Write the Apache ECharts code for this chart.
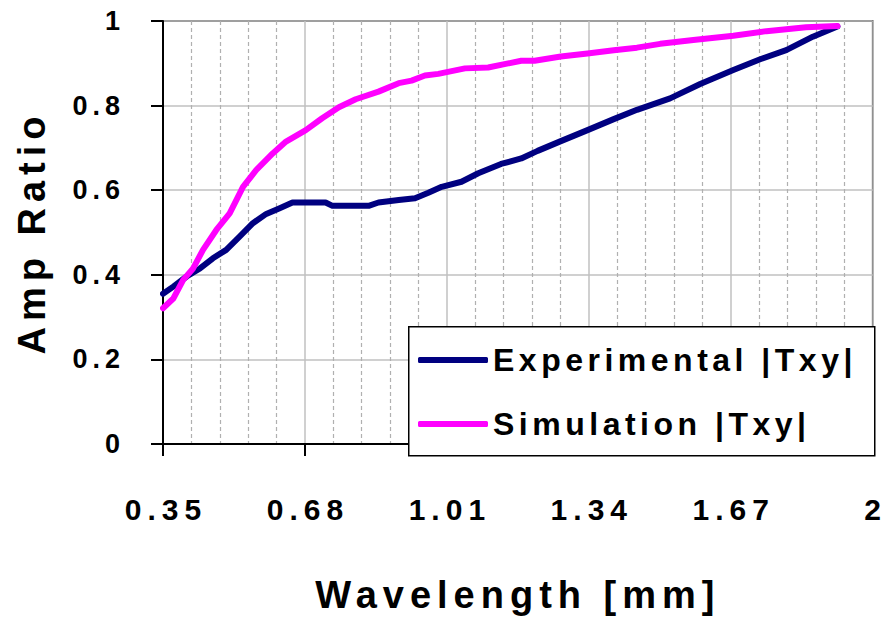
<!DOCTYPE html>
<html>
<head>
<meta charset="utf-8">
<script src="https://cdn.jsdelivr.net/npm/echarts@6/dist/echarts.min.js"></script>
<style>
  html, body { margin: 0; padding: 0; background: #fff; }
  #chart { width: 887px; height: 623px; }
</style>
</head>
<body>
<div id="chart"></div>
<script>
// ---- data ----
const SERIES_NAMES = ['Experimental |Txy|', 'Simulation |Txy|'];

const EXP_WL  = [0.350,0.374,0.405,0.436,0.466,0.497,0.528,0.559,0.590,0.620,0.651,0.728,0.744,0.828,0.851,0.898,0.936,0.967,0.998,1.044,1.083,1.136,1.183,1.221,1.275,1.337,1.398,1.452,1.529,1.599,1.676,1.737,1.799,1.861,1.918];
const EXP_AMP = [0.355,0.372,0.396,0.415,0.439,0.459,0.490,0.522,0.544,0.557,0.571,0.571,0.563,0.563,0.571,0.577,0.581,0.594,0.608,0.620,0.640,0.662,0.675,0.693,0.716,0.742,0.768,0.790,0.817,0.851,0.884,0.909,0.931,0.963,0.987];

const SIM_WL  = [0.350,0.374,0.397,0.420,0.443,0.474,0.505,0.536,0.567,0.605,0.636,0.682,0.720,0.759,0.798,0.851,0.898,0.928,0.959,0.990,1.052,1.106,1.144,1.183,1.214,1.275,1.337,1.398,1.452,1.506,1.583,1.676,1.753,1.845,1.918];
const SIM_AMP = [0.321,0.344,0.388,0.415,0.459,0.506,0.545,0.608,0.648,0.687,0.715,0.742,0.770,0.796,0.815,0.833,0.853,0.859,0.871,0.875,0.888,0.890,0.898,0.906,0.906,0.916,0.923,0.931,0.937,0.946,0.955,0.965,0.976,0.985,0.988];

const X_TICK_LABELS = ['0.35', '0.68', '1.01', '1.34', '1.67', '2'];
const Y_TICK_LABELS = ['0', '0.2', '0.4', '0.6', '0.8', '1'];
const X_MIN = 0.35, X_MAX = 2, X_STEP = 0.33;
const Y_MIN = 0, Y_MAX = 1, Y_STEP = 0.2;

// ---- chart ----
const FONT = '"Liberation Sans", Arial, sans-serif';
const chart = echarts.init(document.getElementById('chart'), null, { renderer: 'svg' });

const labelStyle = (size) => ({ fontFamily: FONT, fontWeight: 'bold', fontSize: size, color: '#000' });

const option = {
  animation: false,
  backgroundColor: '#fff',
  grid: { left: 163, right: 10, top: 21, bottom: 179, show: true, borderColor: '#000', borderWidth: 1.5, containLabel: false },
  xAxis: [
    {
      type: 'value', min: 0, max: X_MAX - X_MIN, interval: X_STEP,
      axisLine: { show: true, onZero: false, lineStyle: { color: '#000', width: 2 } },
      axisTick: { show: true, length: 12, lineStyle: { color: '#000', width: 2 } },
      minorTick: { show: false, splitNumber: 5 },
      axisLabel: Object.assign(labelStyle(30), { margin: 50, padding: [0, 0, 0, 6], showMinLabel: true, showMaxLabel: true,
        formatter: (v, i) => X_TICK_LABELS[i] }),
      splitLine: { show: true, lineStyle: { color: '#c0c0c0', width: 1.5 } },
      minorSplitLine: { show: true, lineStyle: { color: '#b0b0b0', width: 1.2, type: [4, 3] } },
      name: 'Wavelength [mm]', nameLocation: 'middle', nameGap: 132,
      nameTextStyle: labelStyle(38)
    },
    { type: 'value', min: X_MIN, max: X_MAX, show: false, splitLine: { show: false } }
  ],
  yAxis: {
    type: 'value', min: Y_MIN, max: Y_MAX, interval: Y_STEP,
    axisLine: { show: true, lineStyle: { color: '#000', width: 2 } },
    axisTick: { show: true, length: 12, lineStyle: { color: '#000', width: 2 } },
    axisLabel: Object.assign(labelStyle(27), { margin: 38, padding: [8, 0, 0, 0], formatter: (v, i) => Y_TICK_LABELS[i] }),
    splitLine: { show: true, lineStyle: { color: '#c0c0c0', width: 1.5 } },
    name: 'Amp Ratio', nameLocation: 'middle', nameGap: 112, nameRotate: 90,
    nameTextStyle: labelStyle(38)
  },
  graphic: [{
    type: 'rect', left: 408, top: 326, z: 3,
    shape: { width: 466, height: 129 },
    style: { fill: '#fff', stroke: '#000', lineWidth: 1.5 }
  }],
  legend: SERIES_NAMES.map((n, i) => ({
    data: [n], left: 418, top: i === 0 ? 344 : 408, orient: 'vertical', padding: 0,
    icon: 'roundRect', itemWidth: 70, itemHeight: 6, selectedMode: false, z: 5,
    textStyle: labelStyle(32)
  })),
  series: [
    { name: SERIES_NAMES[0], type: 'line', xAxisIndex: 1, yAxisIndex: 0, silent: true, showSymbol: false, z: 2,
      data: EXP_WL.map((x, i) => [x, EXP_AMP[i]]),
      itemStyle: { color: '#000080' },
      lineStyle: { color: '#000080', width: 6, cap: 'round', join: 'round' } },
    { name: SERIES_NAMES[1], type: 'line', xAxisIndex: 1, yAxisIndex: 0, silent: true, showSymbol: false, z: 2,
      data: SIM_WL.map((x, i) => [x, SIM_AMP[i]]),
      itemStyle: { color: '#ff00ff' },
      lineStyle: { color: '#ff00ff', width: 6, cap: 'round', join: 'round' } }
  ]
};
chart.setOption(option);

// letter spacing by font size (the reference text is widely tracked)
const SPACING = { '38': 6, '30': 6, '27': 5, '32': 4.5 };
function applySpacing() {
  document.querySelectorAll('#chart svg text').forEach(t => {
    const fs = parseFloat(getComputedStyle(t).fontSize);
    const s = SPACING[String(Math.round(fs))];
    if (s !== undefined) t.style.letterSpacing = s + 'px';
  });
}
applySpacing();
chart.on('finished', applySpacing);
</script>
</body>
</html>
